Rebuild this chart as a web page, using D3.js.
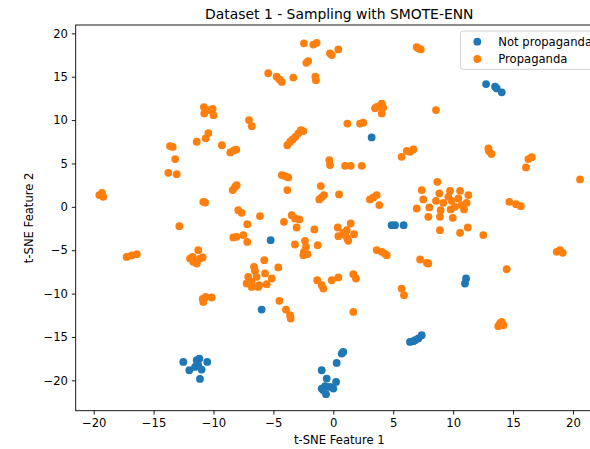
<!DOCTYPE html>
<html>
<head>
<meta charset="utf-8">
<script src="https://cdn.jsdelivr.net/npm/d3@7"></script>
<style>
  html, body { margin: 0; padding: 0; background: #fff; }
  svg { display: block; font-family: "DejaVu Sans", sans-serif; }
</style>
</head>
<body>
<svg id="chart" width="590" height="449"></svg>
<script>
const title = "Dataset 1 - Sampling with SMOTE-ENN";
const xLabel = "t-SNE Feature 1";
const yLabel = "t-SNE Feature 2";
const categories = ["Not propaganda", "Propaganda"];
const colors = ["#1f77b4", "#ff7f0e"];
const xTicks = [-20, -15, -10, -5, 0, 5, 10, 15, 20];
const yTicks = [-20, -15, -10, -5, 0, 5, 10, 15, 20];

const notPropaganda = [
  [3.2,8.0],
  [12.75,14.15],[13.5,13.84],[13.64,13.65],[14.06,13.2],
  [4.87,-2.11],[5.15,-2.11],[5.87,-2.11],
  [-5.23,-3.84],
  [-5.98,-11.84],
  [11.08,-8.26],[10.99,-8.84],
  [6.4,-15.57],[6.68,-15.49],[6.82,-15.37],[7.1,-15.18],[7.38,-14.8],
  [-12.52,-17.88],[-12.02,-18.84],[-11.4,-17.68],[-11.18,-17.49],[-11.27,-18.26],
  [-10.99,-18.76],[-10.52,-17.88],[-11.13,-19.84],[-11.54,-18.45],
  [0.83,-16.72],[0.7,-16.91],[0.28,-17.99],[-0.97,-18.84],[-0.55,-19.8],
  [-0.97,-20.95],[-0.69,-20.68],[-0.28,-20.76],[0.0,-20.95],[0.23,-20.18],
  [-0.61,-21.6],[-0.83,-21.14]
];

const propaganda = [
  [-13.63,7.0],[-13.4,6.9],[-13.2,5.5],[-11.4,7.5],[-10.65,7.9],[-10.43,8.5],
  [-10.8,11.5],[-10.43,11.15],[-10.07,11.3],[-10.77,10.77],[-10.0,10.57],
  [-9.3,7.1],[-8.6,6.27],[-8.3,6.5],[-8.1,6.6],
  [-2.45,18.85],[-1.67,18.7],[-1.39,18.9],[-0.13,17.5],[0.42,18.15],[-0.28,17.7],
  [-2.25,16.6],[-2.1,16.8],
  [-5.43,15.4],[-4.73,15.0],[-4.5,14.7],[-4.3,14.4],[-3.34,14.9],[-1.5,15.0],[-1.45,14.6],
  [3.62,11.53],[4.04,11.9],[4.17,11.46],[4.04,10.77],[3.48,11.35],[3.84,11.6],
  [-7.04,10.0],[-6.8,9.3],
  [1.17,9.6],[2.23,9.6],[2.5,9.7],
  [-3.84,7.1],[-3.6,7.5],[-3.39,7.77],[-3.17,8.07],[-2.92,8.47],[-2.7,8.85],[-2.5,8.73],
  [5.7,5.77],[6.13,6.46],[6.4,6.34],[6.68,6.62],
  [6.96,18.4],[7.3,18.15],[7.1,18.27],
  [8.57,11.15],
  [12.94,6.73],[13.0,6.4],[13.2,6.1],
  [16.28,5.5],[16.56,5.72],[16.08,4.54],
  [-13.77,3.92],[-13.07,3.77],
  [-19.33,1.35],[-19.53,1.35],[-19.2,1.15],[-19.3,1.6],
  [-10.85,0.58],[-10.7,0.5],
  [-12.85,-2.23],
  [-17.25,-5.77],[-16.83,-5.6],[-16.4,-5.46],
  [-11.96,-5.96],[-11.74,-5.77],[-11.4,-6.53],[-11.27,-5.0],[-11.13,-5.96],[-10.9,-5.84],[-11.69,-6.34],
  [-8.07,2.5],[-8.4,1.93],[-8.2,2.3],
  [-7.93,-0.38],[-7.65,-0.69],
  [-8.07,-3.46],[-7.51,-3.26],[-8.35,-3.53],[-7.18,-4.04],
  [-0.33,5.39],[-0.28,4.81],[0.98,4.73],[1.45,4.73],[2.37,4.73],
  [-4.3,3.66],[-4.03,3.54],[-3.76,3.39],
  [-1.05,2.39],[-3.84,1.93],
  [-0.78,1.35],[-1.17,0.85],[-0.98,1.1],
  [0.48,1.43],
  [3.62,1.35],[3.06,0.85],[3.34,1.08],[3.84,0.2],
  [-6.12,-1.07],[-7.18,-2.0],[-4.12,-1.73],
  [-3.47,-0.96],[-3.2,-1.34],[-2.84,-1.45],[-3.06,-2.38],
  [-1.58,-2.6],
  [0.37,-2.38],[1.45,-1.92],[1.12,-2.69],[0.83,-3.0],[0.42,-3.38],[1.73,-3.15],[1.17,-3.65],[1.25,-3.92],[0.98,-3.26],
  [-3.2,-4.34],
  [-2.36,-3.92],[-2.28,-4.61],[-2.45,-5.19],[-2.17,-5.46],[-2.5,-5.57],
  [-1.3,-4.42],
  [3.62,-4.99],[4.04,-5.19],[4.46,-5.57],[4.3,-5.4],
  [-5.76,-6.15],
  [-6.62,-6.92],[-6.54,-7.38],[-7.1,-8.07],[-6.4,-8.07],[-5.7,-7.68],[-5.14,-8.26],
  [-6.81,-8.65],[-7.23,-8.84],[-6.18,-9.03],[-5.56,-8.92],[-4.59,-6.99],
  [-6.81,-9.23],[-6.26,-9.23],
  [-1.34,-8.45],[-0.97,-9.03],[-0.83,-9.42],
  [-0.13,-8.45],[0.42,-8.14],
  [1.67,-7.76],[1.89,-8.26],
  [5.7,-9.42],[5.9,-10.18],
  [20.59,3.16],[8.68,2.88],
  [7.38,1.93],[8.85,1.54],[9.74,1.85],[10.58,1.85],[11.27,1.35],
  [7.51,0.85],[8.57,0.69],[9.18,0.46],[9.88,0.69],[10.43,0.97],[11.13,0.46],[9.6,1.15],
  [10.72,0.2],[10.16,0.0],[6.96,-0.19],[8.01,-0.07],[8.96,-0.38],[9.8,-0.3],[10.91,-0.3],
  [7.93,-1.15],[8.9,-1.15],[9.97,-1.27],
  [8.9,-2.69],[10.58,-3.0],[11.22,-2.38],[12.52,-3.26],
  [14.69,0.58],[15.25,0.31],[15.64,0.08],
  [18.92,-5.0],[18.65,-5.19],[19.15,-5.3],
  [7.24,-6.07],[7.93,-6.53],[7.8,-6.46],
  [14.47,-7.19],
  [-10.85,-10.96],[-10.65,-10.38],[-10.15,-10.45],[-10.9,-10.6],
  [-4.5,-10.84],[-3.95,-11.84],[-3.61,-12.49],[-3.56,-12.87],
  [1.67,-12.11],
  [13.91,-13.45],[14.19,-13.65],[13.77,-13.76],[14.05,-13.26]
];

const series = [notPropaganda, propaganda];

const svg = d3.select("#chart");
const mLeft = 75.7, mRight = 602.9, mTop = 25, mBottom = 410.7;
const x = d3.scaleLinear().domain([-21.5, 22.5]).range([mLeft, mRight]);
const y = d3.scaleLinear().domain([-23.5, 20.96]).range([mBottom, mTop]);
const fs = 11.6;
const minus = d => d3.format("d")(d).replace("-", "\u2212");

// points
series.forEach((pts, i) => {
  svg.append("g").selectAll("circle").data(pts).join("circle")
    .attr("cx", d => x(d[0])).attr("cy", d => y(d[1]))
    .attr("r", 3.9).attr("fill", colors[i]);
});

// axes
const xAxis = d3.axisBottom(x).tickValues(xTicks).tickFormat(minus).tickSize(3.9).tickPadding(3.9);
const yAxis = d3.axisLeft(y).tickValues(yTicks).tickFormat(minus).tickSize(3.9).tickPadding(3.9);
const gx = svg.append("g").attr("transform", `translate(0,${mBottom})`).call(xAxis);
const gy = svg.append("g").attr("transform", `translate(${mLeft},0)`).call(yAxis);
[gx, gy].forEach(g => {
  g.select(".domain").remove();
  g.selectAll(".tick line").attr("stroke", "#000").attr("stroke-width", 0.9);
  g.selectAll(".tick text").attr("fill", "#000").style("font-size", fs + "px")
    .style("font-family", "DejaVu Sans");
});

// spines
svg.append("rect").attr("x", mLeft).attr("y", mTop)
  .attr("width", mRight - mLeft).attr("height", mBottom - mTop)
  .attr("fill", "none").attr("stroke", "#000").attr("stroke-width", 0.9);

// labels
svg.append("text").attr("x", (mLeft + mRight) / 2).attr("y", 444)
  .attr("text-anchor", "middle").style("font-size", fs + "px").text(xLabel);
svg.append("text").attr("transform", `translate(33,${(mTop + mBottom) / 2}) rotate(-90)`)
  .attr("text-anchor", "middle").style("font-size", fs + "px").text(yLabel);
svg.append("text").attr("x", (mLeft + mRight) / 2).attr("y", 18.6)
  .attr("text-anchor", "middle").style("font-size", "13.9px").text(title);

// legend
const lg = svg.append("g");
lg.append("rect").attr("x", 460.5).attr("y", 31).attr("width", 140).attr("height", 38.3)
  .attr("rx", 2.5).attr("fill", "#fff").attr("fill-opacity", 0.8)
  .attr("stroke", "#cccccc").attr("stroke-width", 0.9);
categories.forEach((c, i) => {
  const cy = 41.7 + i * 17.3;
  lg.append("circle").attr("cx", 477.3).attr("cy", cy).attr("r", 3.9).attr("fill", colors[i]);
  lg.append("text").attr("x", 498.3).attr("y", cy + 4.2).style("font-size", fs + "px").text(c);
});
</script>
</body>
</html>
